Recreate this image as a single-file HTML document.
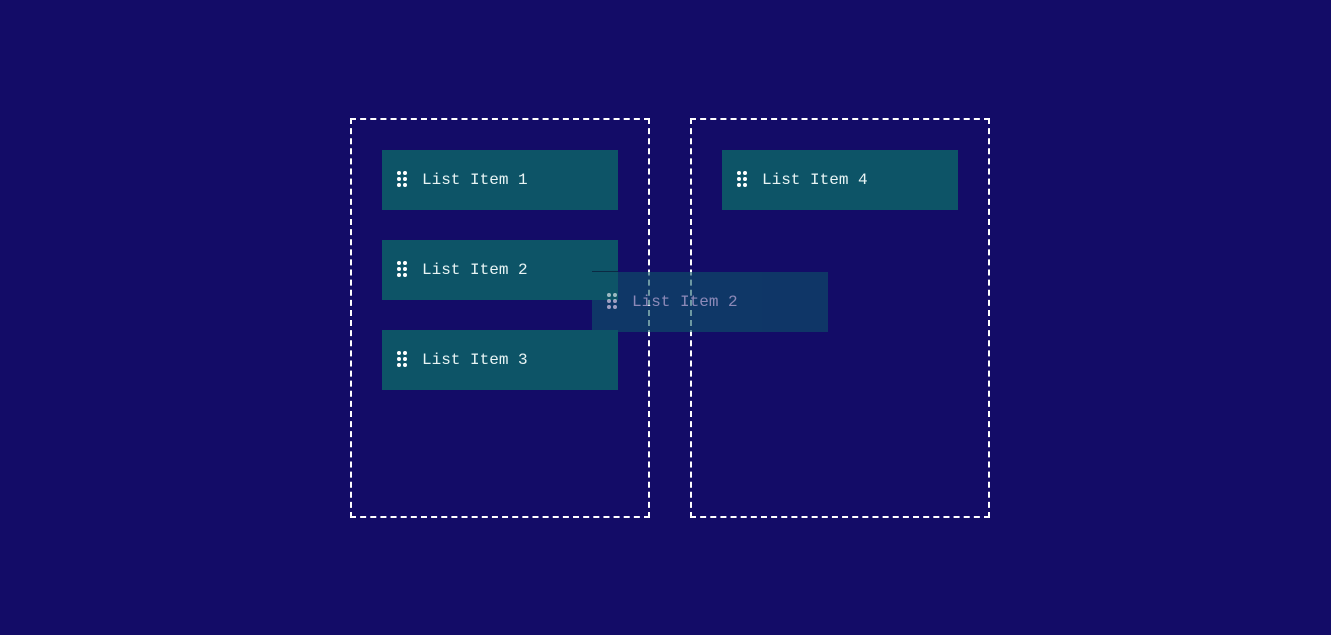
<!DOCTYPE html>
<html><head><style>
body{margin:0;width:1331px;height:635px;background:#130c67;position:relative;overflow:hidden;font-family:"Liberation Mono",monospace}
.box{position:absolute;top:118px;width:296px;height:396px;border:2px dashed #fff}
.it{position:absolute;width:236px;height:60px;background:#0d5467;color:#e8f4f4;font-size:16px;line-height:60px}
.it .t{position:absolute;left:40px;top:0}
.d{position:absolute;left:15px;top:20px;width:10px;height:18px}
.d i{position:absolute;width:4px;height:4px;border-radius:50%;background:#fff}
</style></head><body>
<div class="box" style="left:350px"></div>
<div class="box" style="left:690px"></div>
<div class="it" style="left:382px;top:150px"><div class="d"><i style="left:0px;top:1px"></i><i style="left:6px;top:1px"></i><i style="left:0px;top:7px"></i><i style="left:6px;top:7px"></i><i style="left:0px;top:13px"></i><i style="left:6px;top:13px"></i></div><span class="t">List Item 1</span></div>
<div class="it" style="left:382px;top:240px"><div class="d"><i style="left:0px;top:1px"></i><i style="left:6px;top:1px"></i><i style="left:0px;top:7px"></i><i style="left:6px;top:7px"></i><i style="left:0px;top:13px"></i><i style="left:6px;top:13px"></i></div><span class="t">List Item 2</span></div>
<div class="it" style="left:382px;top:330px"><div class="d"><i style="left:0px;top:1px"></i><i style="left:6px;top:1px"></i><i style="left:0px;top:7px"></i><i style="left:6px;top:7px"></i><i style="left:0px;top:13px"></i><i style="left:6px;top:13px"></i></div><span class="t">List Item 3</span></div>
<div class="it" style="left:722px;top:150px"><div class="d"><i style="left:0px;top:1px"></i><i style="left:6px;top:1px"></i><i style="left:0px;top:7px"></i><i style="left:6px;top:7px"></i><i style="left:0px;top:13px"></i><i style="left:6px;top:13px"></i></div><span class="t">List Item 4</span></div>
<div style="position:absolute;left:592px;top:271px;width:26px;height:1px;background:#0b2a44"></div>
<div class="it" style="left:592px;top:272px;opacity:0.6;color:#dde"><div class="d"><i style="left:0px;top:1px"></i><i style="left:6px;top:1px"></i><i style="left:0px;top:7px"></i><i style="left:6px;top:7px"></i><i style="left:0px;top:13px"></i><i style="left:6px;top:13px"></i></div><span class="t">List Item 2</span></div>
</body></html>
